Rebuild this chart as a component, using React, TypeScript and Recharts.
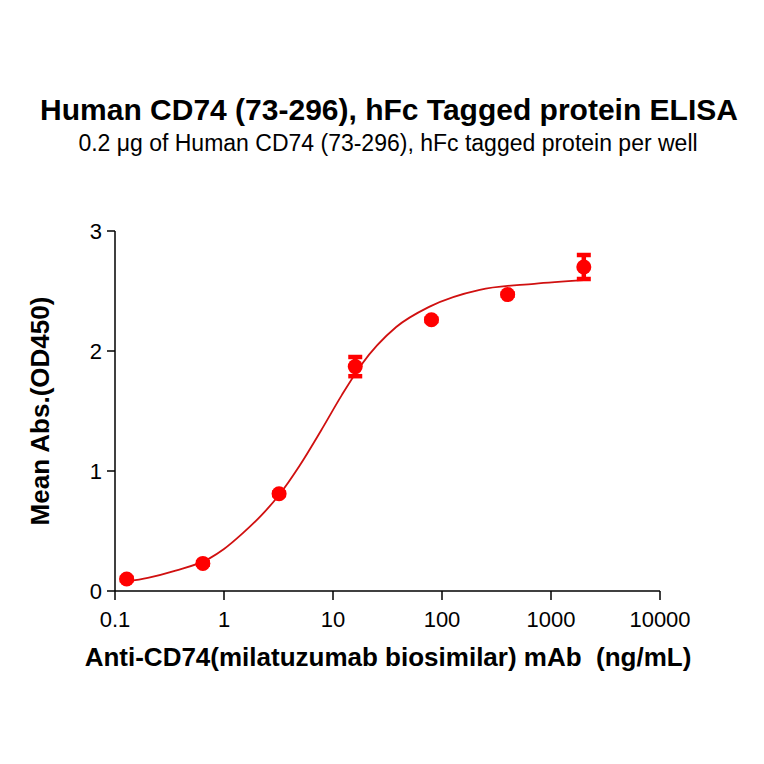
import { ComposedChart, Line, Scatter, ErrorBar, XAxis, YAxis } from "recharts";

const concentrations = [0.128, 0.64, 3.2, 16, 80, 400, 2000];
const meanAbs = [0.1, 0.23, 0.81, 1.87, 2.26, 2.47, 2.7];
const sdAbs = [0.01, 0.01, 0.01, 0.08, 0.01, 0.01, 0.1];

// fitted curve
const fitX = [0.128, 0.2, 0.36, 0.73, 1, 1.48, 2.2, 3.2, 4.9, 7.8, 12, 18, 38, 77, 222, 700, 2000];
const fitY = [0.08, 0.11, 0.17, 0.27, 0.35, 0.48, 0.63, 0.8, 1.04, 1.34, 1.63, 1.88, 2.2, 2.37, 2.51, 2.56, 2.59];

const xTicks = [0.1, 1, 10, 100, 1000, 10000];
const yTicks = [0, 1, 2, 3];

const points = concentrations.map((x, i) => ({ x, y: meanAbs[i], sd: sdAbs[i] }));
const fit = fitX.map((x, i) => ({ x, y: fitY[i] }));

const font = "'Liberation Sans', Arial, sans-serif";

export default function App() {
    return (
        <div style={{ position: "absolute", left: 0, top: 0, width: 764, height: 764, background: "#fff", fontFamily: font }}>
            <div style={{ position: "absolute", left: 0, width: 778, top: 93, textAlign: "center", fontSize: 30, lineHeight: "34px", fontWeight: "bold", whiteSpace: "nowrap" }}>
                Human CD74 (73-296), hFc Tagged protein ELISA
            </div>
            <div style={{ position: "absolute", left: 0, width: 776, top: 130, textAlign: "center", fontSize: 23, lineHeight: "26px", whiteSpace: "nowrap" }}>
                0.2 μg of Human CD74 (73-296), hFc tagged protein per well
            </div>
            <div style={{ position: "absolute", left: 0, width: 776, top: 642, textAlign: "center", fontSize: 26, lineHeight: "30px", fontWeight: "bold", whiteSpace: "nowrap" }}>
                Anti-CD74(milatuzumab biosimilar) mAb&nbsp;&nbsp;(ng/mL)
            </div>
            <div style={{ position: "absolute", left: 40, top: 411, width: 0, height: 0 }}>
                <div style={{ position: "absolute", left: -150, top: -15, width: 300, textAlign: "center", fontSize: 26, lineHeight: "30px", fontWeight: "bold", whiteSpace: "nowrap", transform: "rotate(-90deg)" }}>
                    Mean Abs.(OD450)
                </div>
            </div>
            <ComposedChart
                width={764}
                height={764}
                margin={{ top: 231, right: 104, bottom: 113, left: 55 }}
                style={{ position: "absolute", left: 0, top: 0 }}
            >
                <XAxis
                    dataKey="x"
                    type="number"
                    scale="log"
                    domain={[0.1, 10000]}
                    ticks={xTicks}
                    allowDataOverflow
                    height={60}
                    tickSize={9}
                    tickMargin={11}
                    tickFormatter={(v) => String(v)}
                    stroke="#000"
                    axisLine={{ stroke: "#000", strokeWidth: 1.5 }}
                    tickLine={{ stroke: "#000", strokeWidth: 1.5 }}
                    tick={{ fill: "#000", fontSize: 22, fontFamily: font }}
                />
                <YAxis
                    type="number"
                    domain={[0, 3]}
                    ticks={yTicks}
                    width={60}
                    tickSize={8}
                    tickMargin={5}
                    stroke="#000"
                    axisLine={{ stroke: "#000", strokeWidth: 1.5 }}
                    tickLine={{ stroke: "#000", strokeWidth: 1.5 }}
                    tick={{ fill: "#000", fontSize: 22, fontFamily: font }}
                />
                <Line
                    data={fit}
                    dataKey="y"
                    type="monotone"
                    stroke="#d01010"
                    strokeWidth={1.8}
                    dot={false}
                    activeDot={false}
                    isAnimationActive={false}
                />
                <Scatter
                    data={points}
                    dataKey="y"
                    fill="#ff0000"
                    isAnimationActive={false}
                    shape={(p: any) => <circle cx={p.cx} cy={p.cy} r={7.5} fill="#ff0000" />}
                >
                    <ErrorBar dataKey="sd" direction="y" width={7} strokeWidth={4.5} stroke="#ff0000" />
                </Scatter>
            </ComposedChart>
        </div>
    );
}
